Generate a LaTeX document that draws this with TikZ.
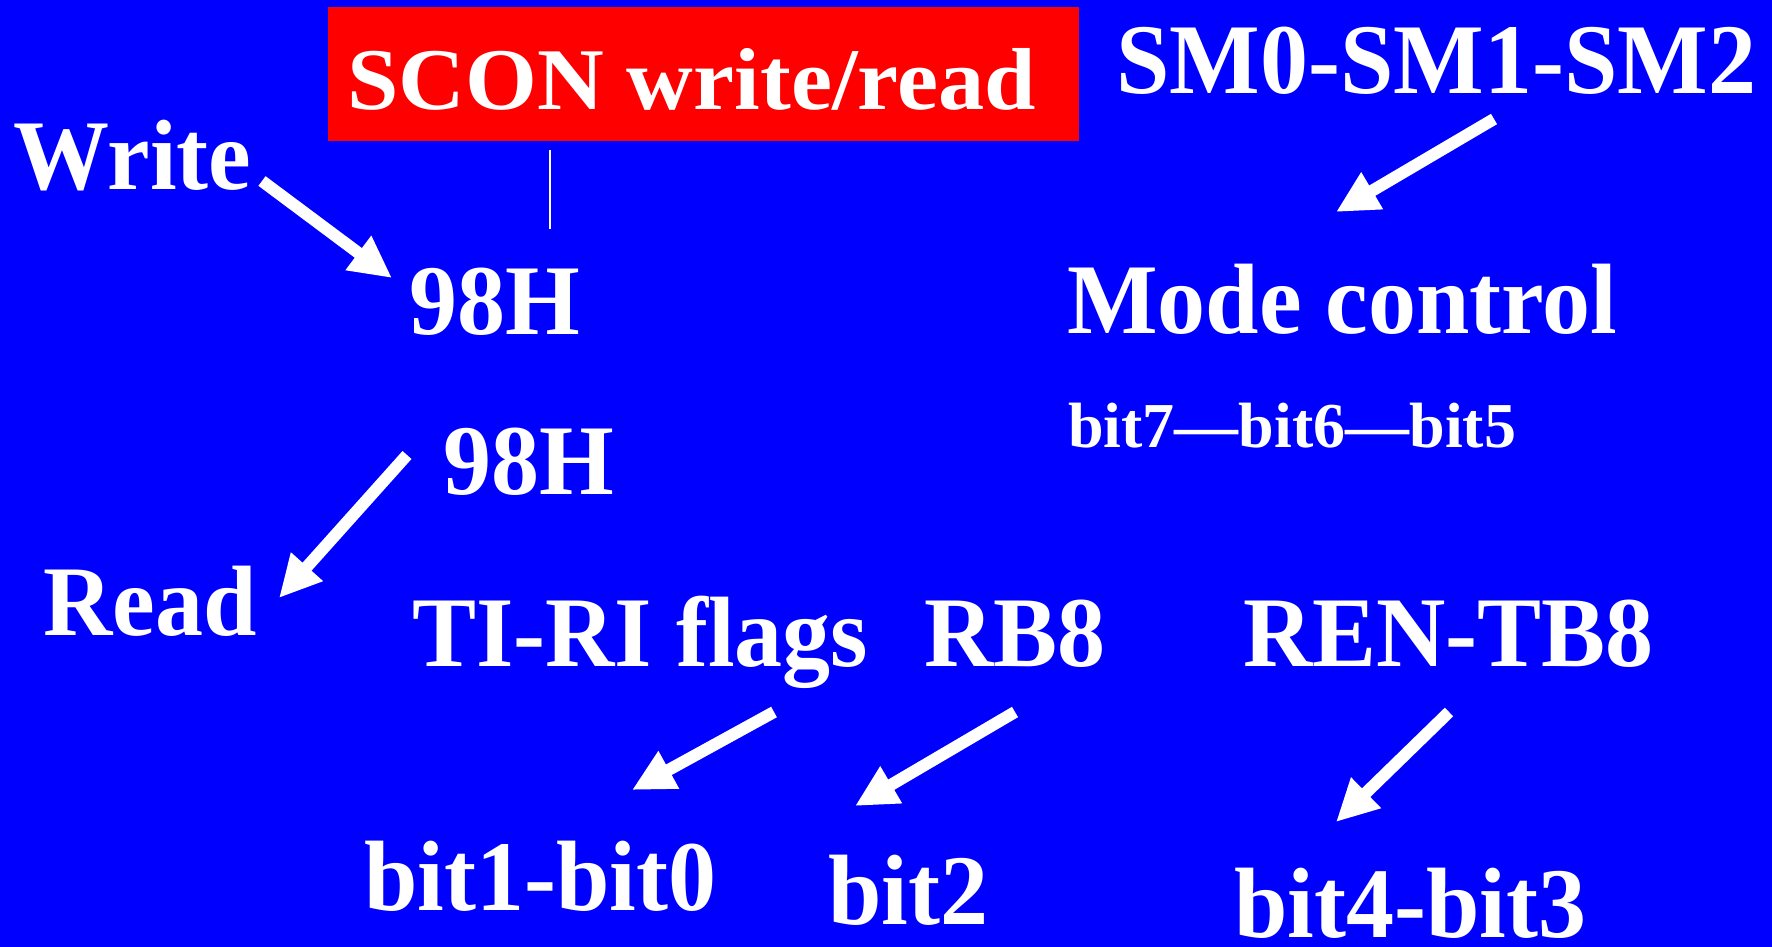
\documentclass[tikz,border=0pt]{standalone}
\usepackage{fontspec}
\setmainfont{Liberation Serif}
\newfontfamily\slidefont[FakeStretch=0.96]{Liberation Serif}
\newfontfamily\titlefont[FakeStretch=1.05]{Liberation Serif}
\newfontfamily\bitfont{Liberation Serif}
\usetikzlibrary{arrows.meta}
\definecolor{slideblue}{RGB}{0,0,255}
\definecolor{slidered}{RGB}{255,0,0}
\begin{document}
\begin{tikzpicture}[x=1pt,y=-1pt,
  lbl/.style={anchor=base west, inner sep=0pt, text=white,
    font=\slidefont\bfseries\fontsize{100}{100}\selectfont},
  titlelbl/.style={lbl, font=\titlefont\bfseries\fontsize{88}{88}\selectfont},
  smalllbl/.style={lbl, font=\bitfont\bfseries\fontsize{64}{64}\selectfont},
  pointer/.style={draw=white, line width=12pt,
    -{Triangle[length=42pt,width=40pt]}}]
  % slide background
  \fill[slideblue] (0,0) rectangle (1772,947);
  \useasboundingbox (0,0) rectangle (1772,947);

  % title box
  \node[fill=slidered, inner sep=0pt, minimum width=751pt, minimum height=134pt,
        anchor=north west] (titlebox) at (328,7) {};
  \node[titlelbl] (title) at (347,110) {SCON write/read};

  % labels
  \node[lbl] (write) at (13,189) {Write};
  \node[lbl] (addrw) at (409,334) {98H};
  \node[lbl] (addrr) at (443,494) {98H};
  \node[lbl] (read) at (43,635) {Read};
  \node[lbl] (sm) at (1116,94) {SM0-SM1-SM2};
  \node[lbl] (mode) at (1067,333) {Mode control};
  \node[smalllbl] (bits765) at (1068,447) {bit7—bit6—bit5};
  \node[lbl] (flags) at (412,666) {TI-RI flags};
  \node[lbl] (rb8) at (924,666) {RB8};
  \node[lbl] (rentb8) at (1243,666) {REN-TB8};
  \node[lbl] (bits10) at (364,910) {bit1-bit0};
  \node[lbl] (bit2) at (828,924) {bit2};
  \node[lbl] (bits43) at (1234,937) {bit4-bit3};

  % thin tick under the title
  \coordinate (tickT) at (550,150);
  \coordinate (tickB) at (550,229);
  \draw[white, line width=2pt] (tickT) -- (tickB);

  % arrow ends
  \coordinate (wS) at (262,181);  \coordinate (wE) at (392,278);
  \coordinate (rS) at (407,455);  \coordinate (rE) at (279,598);
  \coordinate (mS) at (1494,119); \coordinate (mE) at (1336,212);
  \coordinate (fS) at (774,712);  \coordinate (fE) at (632,790);
  \coordinate (bS) at (1015,712); \coordinate (bE) at (855,806);
  \coordinate (tS) at (1449,712); \coordinate (tE) at (1336,822);

  \draw[pointer] (wS) -- (wE);
  \draw[pointer] (rS) -- (rE);
  \draw[pointer] (mS) -- (mE);
  \draw[pointer] (fS) -- (fE);
  \draw[pointer] (bS) -- (bE);
  \draw[pointer] (tS) -- (tE);
\end{tikzpicture}
\end{document}
